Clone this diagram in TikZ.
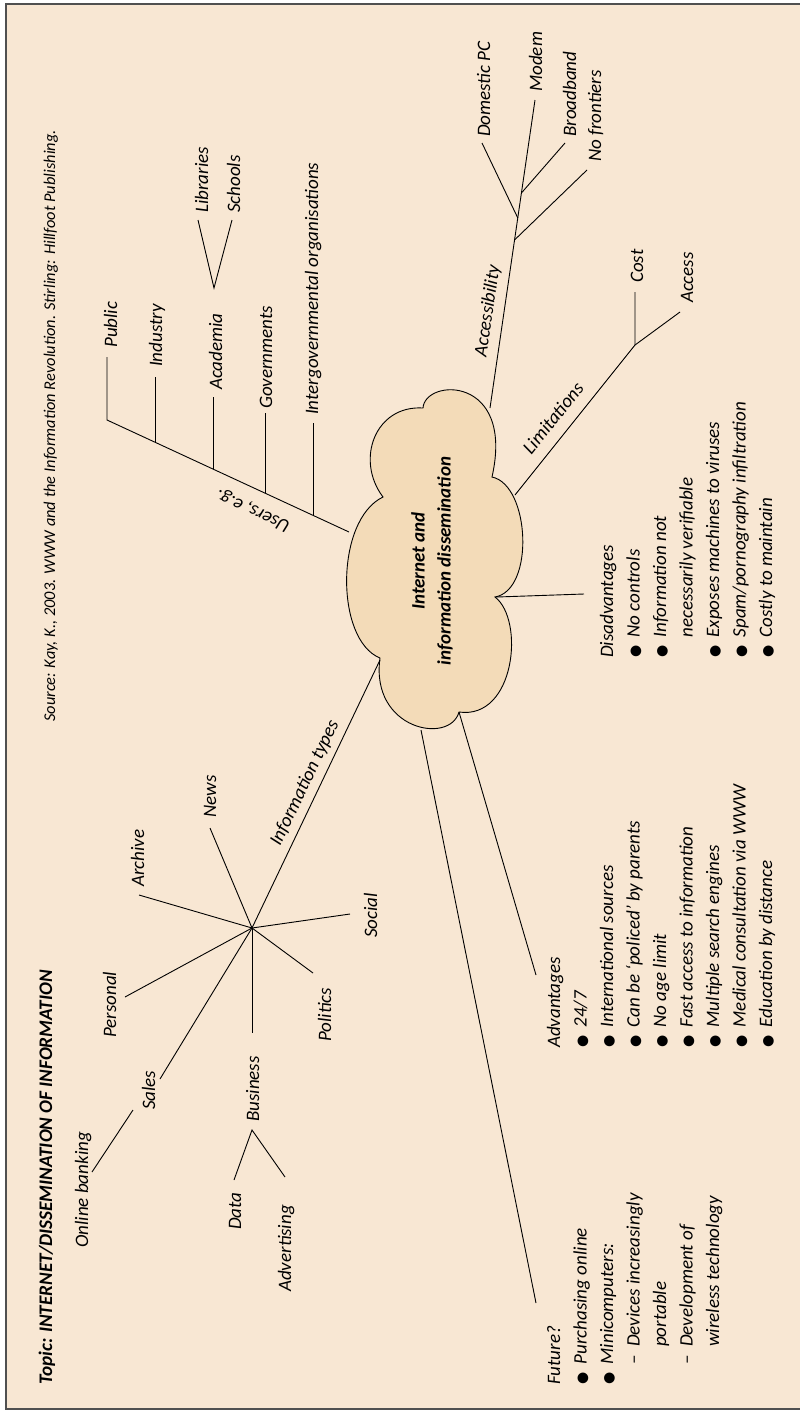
\documentclass[tikz,border=0pt]{standalone}
\usepackage{fontspec}
\setmainfont{Carlito}
\newfontfamily\symfont{DejaVu Sans}
\definecolor{bgc}{HTML}{F8E7D3}
\definecolor{cloudc}{HTML}{F3DBB8}
\definecolor{framec}{HTML}{505050}
\newcommand\bul{\makebox[20.5pt][l]{{\symfont\fontsize{14}{14}\selectfont ●}}}
\newcommand\nob{\hspace*{20.5pt}}
\newcommand\dsh{\makebox[17.5pt][l]{–}}
\tikzset{
  lbl/.style={font=\fontsize{19}{19}\selectfont\itshape, rotate=90, anchor=base west, inner sep=0pt},
  slbl/.style={font=\fontsize{19}{19}\selectfont\itshape, inner sep=0pt, anchor=center},
  conn/.style={draw=black, line width=0.9pt},
}
\begin{document}
\begin{tikzpicture}[x=1pt,y=-1pt]
\useasboundingbox (0,0) rectangle (800,1411);
\fill[white] (0,0) rectangle (800,1411);
\draw[fill=bgc, draw=framec, line width=1.5pt] (6,4) rectangle (804,1409);

% cloud
\draw[fill=cloudc, line width=0.9pt] (383,497) .. controls (355,460) and (375,405) .. (423,408)
  .. controls (425,378) and (515,375) .. (492,477)
  .. controls (530,485) and (535,590) .. (495,597)
  .. controls (525,620) and (515,720) .. (459,712)
  .. controls (450,745) and (370,730) .. (380,658)
  .. controls (335,640) and (335,520) .. (383,497) -- cycle;
\node[font=\fontsize{19}{26}\selectfont\bfseries\itshape, rotate=90, align=center, inner sep=0pt] (cloudtxt) at (432,561) {Internet and\\information dissemination};

% attachment points on the cloud
\coordinate (cU) at (349,532);
\coordinate (cA) at (490,408);
\coordinate (cL) at (515,495);
\coordinate (cD) at (497,597);
\coordinate (cAdv) at (459,712);
\coordinate (cF) at (421,730);
\coordinate (cI) at (380,660);

% title and source
\node[lbl, font=\fontsize{19.2}{19.2}\selectfont\bfseries\itshape] (title) at (52,1385) {Topic: INTERNET/DISSEMINATION OF INFORMATION};
\node[lbl, font=\fontsize{16.4}{16.4}\selectfont\itshape] (source) at (55,722) {Source: Kay, K., 2003. WWW and the Information Revolution. Stirling: Hillfoot Publishing.};

% ---- Users branch
\coordinate (uEnd) at (107,420);
\coordinate (uInd) at (155,442.2);
\coordinate (uAca) at (213,469);
\coordinate (uGov) at (265,493.1);
\coordinate (uIgo) at (313,515.3);
\coordinate (tPub) at (107,357);
\coordinate (tInd) at (155,377);
\coordinate (tAca) at (213,397);
\coordinate (tGov) at (265,413);
\coordinate (tIgo) at (313,423);
\draw[conn] (cU) -- (uEnd) -- (tPub);
\draw[conn] (uInd) -- (tInd);
\draw[conn] (uAca) -- (tAca);
\draw[conn] (uGov) -- (tGov);
\draw[conn] (uIgo) -- (tIgo);
\node[slbl, rotate=155.2] (users) at (253,510) {Users, e.g.};
\node[lbl] (public) at (117,348) {Public};
\node[lbl] (industry) at (162,367) {Industry};
\node[lbl] (academia) at (222,390) {Academia};
\node[lbl] (govts) at (272,409) {Governments};
\node[lbl] (igo) at (318,415) {Intergovernmental organisations};
\coordinate (aV) at (214,288);
\coordinate (aLib) at (198,220);
\coordinate (aSch) at (232,220);
\draw[conn] (aLib) -- (aV) -- (aSch);
\node[lbl] (libraries) at (208,213) {Libraries};
\node[lbl] (schools) at (240,213) {Schools};

% ---- Accessibility branch
\coordinate (acM) at (535,100);
\coordinate (acNF0) at (514.5,240);
\coordinate (acNF) at (587,170);
\coordinate (acDP0) at (517.8,218);
\coordinate (acDP) at (482,143);
\coordinate (acBB0) at (521.4,193);
\coordinate (acBB) at (565,143);
\draw[conn] (cA) -- (acM);
\draw[conn] (acNF0) -- (acNF);
\draw[conn] (acDP0) -- (acDP);
\draw[conn] (acBB0) -- (acBB);
\node[slbl, rotate=81.7] (accessibility) at (488,311) {Accessibility};
\node[lbl] (domestic) at (490,137) {Domestic PC};
\node[lbl] (modem) at (542,92) {Modem};
\node[lbl] (broadband) at (576,137) {Broadband};
\node[lbl] (nofront) at (601,162) {No frontiers};

% ---- Limitations branch
\coordinate (lJ) at (635,345);
\coordinate (lC) at (635,292);
\coordinate (lA) at (680,312);
\draw[conn] (cL) -- (lJ) -- (lC);
\draw[conn] (lJ) -- (lA);
\node[slbl, rotate=51.3] (limitations) at (553,418) {Limitations};
\node[lbl] (cost) at (643,283) {Cost};
\node[lbl] (access) at (693,303) {Access};

% ---- Disadvantages
\coordinate (dE) at (584,594);
\draw[conn] (cD) -- (dE);
\node[lbl] (dH) at (613,658) {Disadvantages};
\node[lbl] (d1) at (639.5,658) {\bul No controls};
\node[lbl] (d2) at (666,658) {\bul Information not};
\node[lbl] (d3) at (692.5,658) {\nob necessarily verifiable};
\node[lbl] (d4) at (719,658) {\bul Exposes machines to viruses};
\node[lbl] (d5) at (745.5,658) {\bul Spam/pornography infiltration};
\node[lbl] (d6) at (772,658) {\bul Costly to maintain};

% ---- Advantages
\coordinate (advE) at (536,975);
\draw[conn] (cAdv) -- (advE);
\node[lbl] (aH) at (560,1048) {Advantages};
\node[lbl] (a1) at (586.5,1048) {\bul 24/7};
\node[lbl] (a2) at (613,1048) {\bul International sources};
\node[lbl] (a3) at (639.5,1048) {\bul Can be ‘policed’ by parents};
\node[lbl] (a4) at (666,1048) {\bul No age limit};
\node[lbl] (a5) at (692.5,1048) {\bul Fast access to information};
\node[lbl] (a6) at (719,1048) {\bul Multiple search engines};
\node[lbl] (a7) at (745.5,1048) {\bul Medical consultation via WWW};
\node[lbl] (a8) at (772,1048) {\bul Education by distance};

% ---- Future
\coordinate (fE) at (536,1303);
\draw[conn] (cF) -- (fE);
\node[lbl] (fH) at (560,1385) {Future?};
\node[lbl] (f1) at (586.5,1385) {\bul Purchasing online};
\node[lbl] (f2) at (613,1385) {\bul Minicomputers:};
\node[lbl] (f3) at (639.5,1385) {\nob\dsh Devices increasingly};
\node[lbl] (f4) at (666,1385) {\nob\hspace*{17.5pt}portable};
\node[lbl] (f5) at (692.5,1385) {\nob\dsh Development of};
\node[lbl] (f6) at (719,1385) {\nob\hspace*{17.5pt}wireless technology};

% ---- Information types
\coordinate (star) at (252,928);
\draw[conn] (cI) -- (star);
\node[slbl, rotate=64.5] (infotypes) at (305,783) {Information types};
\coordinate (sArc) at (139,895);
\coordinate (sNews) at (210,828);
\coordinate (sSoc) at (350,914);
\coordinate (sPol) at (313,973);
\coordinate (sBus) at (252,1033);
\coordinate (sSal) at (160,1079);
\coordinate (sPer) at (125,997);
\foreach \e in {sArc,sNews,sSoc,sPol,sBus,sSal,sPer} \draw[conn] (star) -- (\e);
\node[lbl] (archive) at (144,887) {Archive};
\node[lbl] (news) at (216,818) {News};
\node[lbl] (social) at (377,938) {Social};
\node[lbl] (politics) at (331,1042) {Politics};
\node[lbl] (business) at (259,1122) {Business};
\node[lbl] (personal) at (116,1038) {Personal};
\node[lbl] (sales) at (155,1110) {Sales};
\coordinate (oS) at (133,1110);
\coordinate (oE) at (92,1172);
\draw[conn] (oS) -- (oE);
\node[lbl] (banking) at (88,1248) {Online banking};
\coordinate (bV) at (252,1130);
\coordinate (bData) at (234,1180);
\coordinate (bAdv) at (285,1177);
\draw[conn] (bData) -- (bV) -- (bAdv);
\node[lbl] (data) at (241,1230) {Data};
\node[lbl] (advert) at (291,1292) {Advertising};
\end{tikzpicture}
\end{document}
